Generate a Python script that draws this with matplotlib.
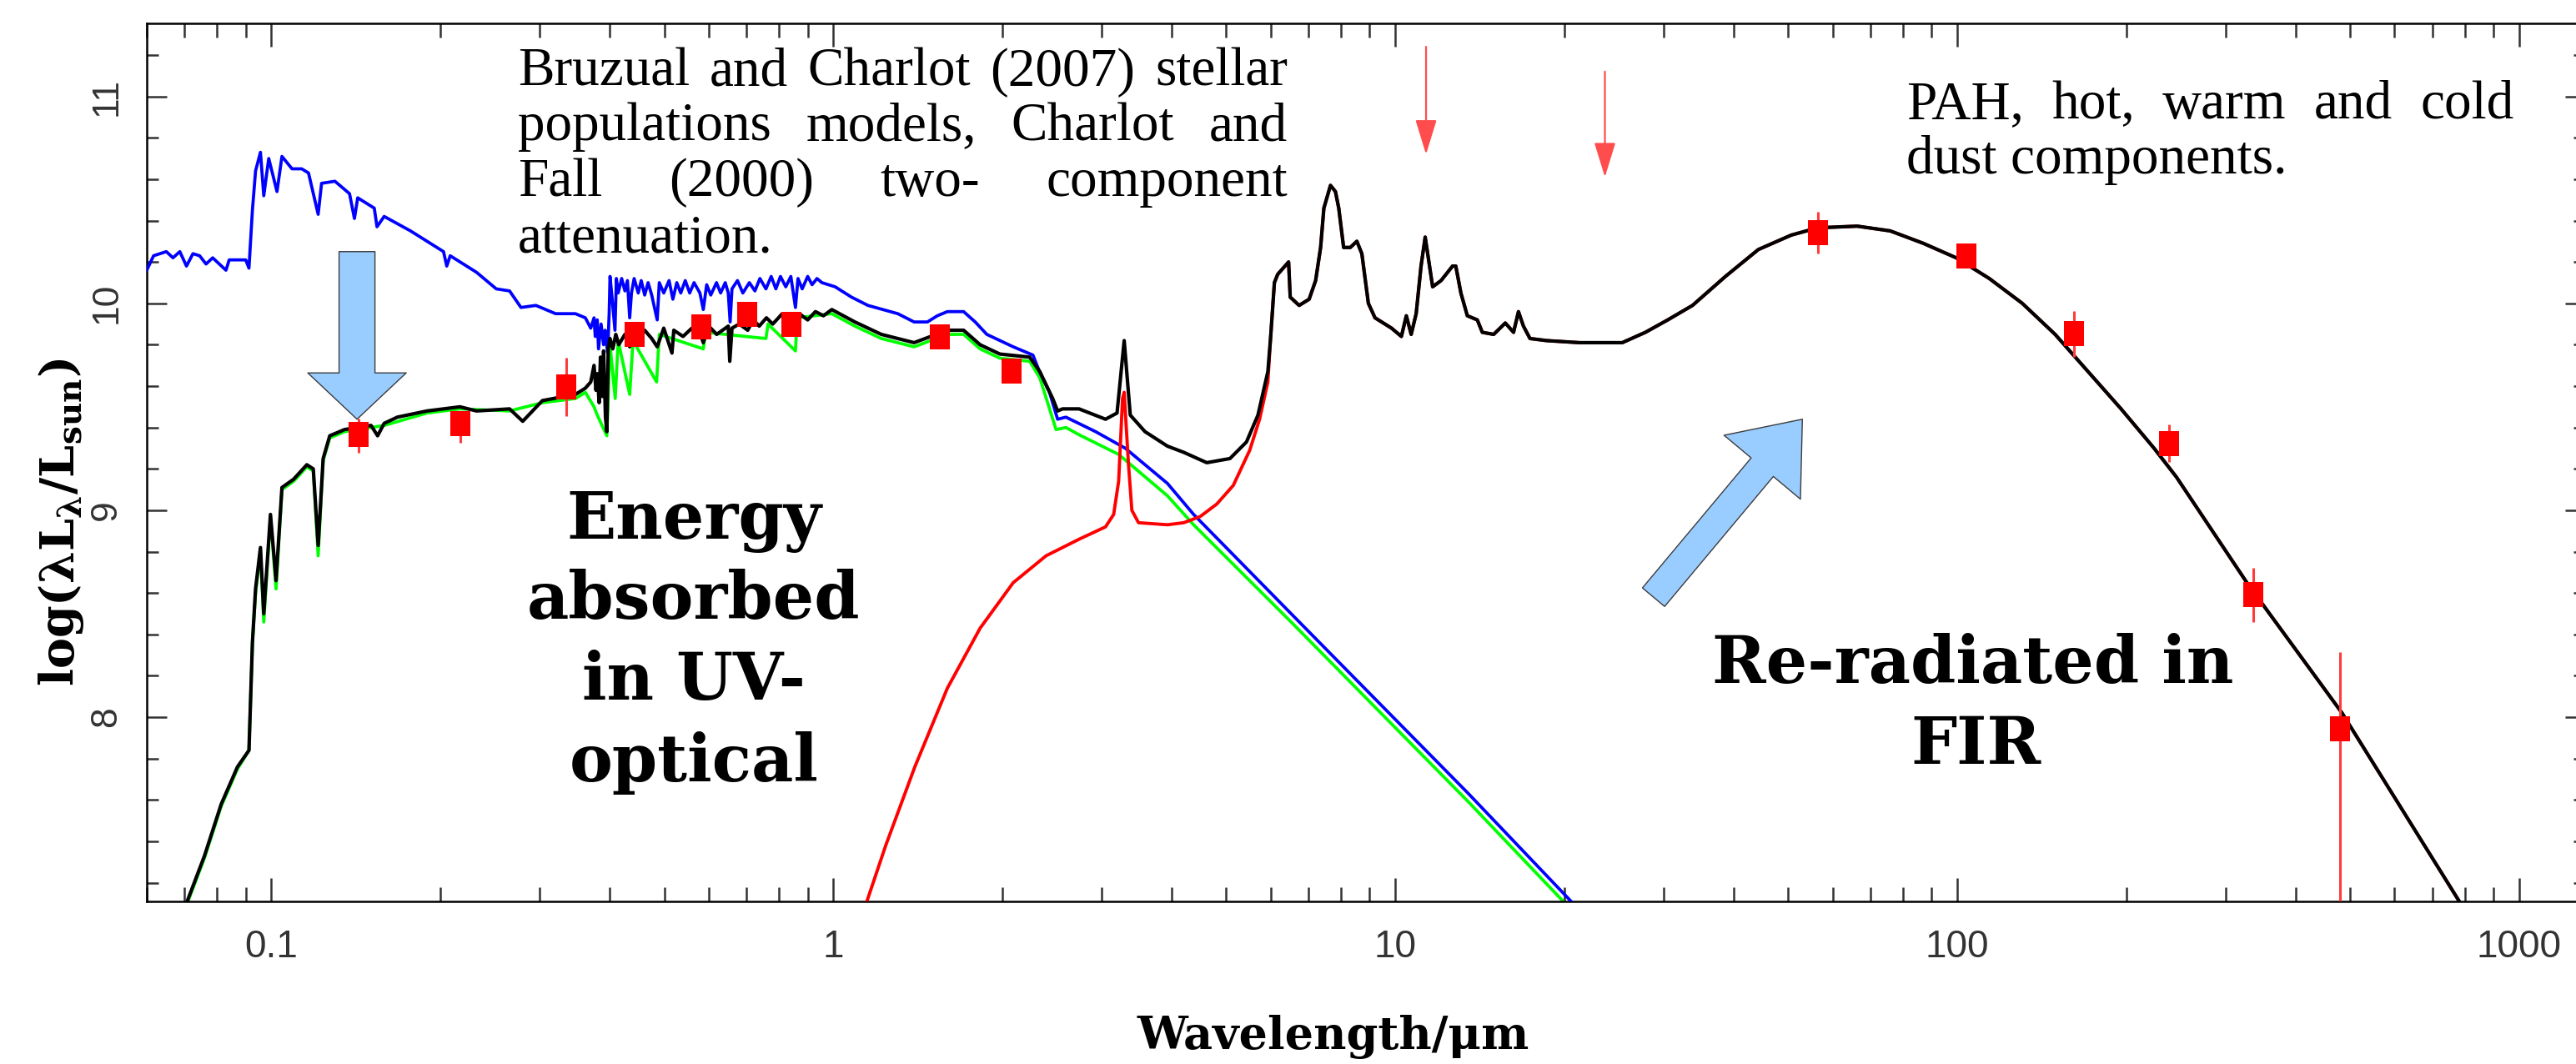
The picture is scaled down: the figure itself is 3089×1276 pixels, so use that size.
import numpy as np
import matplotlib
matplotlib.use('Agg')
import matplotlib.pyplot as plt
from matplotlib import ticker
from matplotlib.patches import FancyArrowPatch

W, H = 3089, 1276

# unattenuated stellar emission (blue): (wavelength um, log L)
blue = [(0.0600, 10.16), (0.0617, 10.23), (0.0650, 10.25), (0.0668, 10.22), (0.0687, 10.25),
        (0.0706, 10.18), (0.0725, 10.24), (0.0745, 10.23), (0.0765, 10.19), (0.0786, 10.22),
        (0.0830, 10.16), (0.0841, 10.21), (0.0900, 10.21), (0.0912, 10.17), (0.0925, 10.45),
        (0.0937, 10.64), (0.0956, 10.73), (0.0969, 10.52), (0.0989, 10.70), (0.1023, 10.54),
        (0.1044, 10.71), (0.1088, 10.65), (0.1132, 10.65), (0.1164, 10.63), (0.1211, 10.43),
        (0.1228, 10.58), (0.1297, 10.59), (0.1377, 10.53), (0.1405, 10.41), (0.1424, 10.51),
        (0.1524, 10.46), (0.1541, 10.37), (0.1587, 10.42), (0.1768, 10.35), (0.1892, 10.30),
        (0.2024, 10.25), (0.2051, 10.18), (0.2080, 10.23), (0.2317, 10.15), (0.2512, 10.07),
        (0.2653, 10.06), (0.2780, 9.98), (0.2955, 9.99), (0.3204, 9.95), (0.3475, 9.95),
        (0.3619, 9.93), (0.3700, 9.88), (0.3750, 9.93), (0.3769, 9.84), (0.3800, 9.92),
        (0.3820, 9.78), (0.3860, 9.90), (0.3900, 9.80), (0.3924, 9.87), (0.3965, 9.76),
        (0.3990, 9.95), (0.4004, 10.13), (0.4040, 10.02), (0.4086, 9.87), (0.4110, 10.12),
        (0.4140, 10.05), (0.4200, 10.12), (0.4256, 10.06), (0.4300, 10.11), (0.4340, 9.93),
        (0.4372, 10.05), (0.4420, 10.12), (0.4495, 10.05), (0.4550, 10.11), (0.4615, 10.04),
        (0.4680, 10.10), (0.4750, 10.04), (0.4858, 9.92), (0.4900, 10.10), (0.4990, 10.05),
        (0.5100, 10.11), (0.5180, 10.02), (0.5264, 10.10), (0.5350, 10.05), (0.5450, 10.11),
        (0.5550, 10.05), (0.5650, 10.10), (0.5787, 10.05), (0.5868, 9.97), (0.5950, 10.09),
        (0.6050, 10.04), (0.6194, 10.10), (0.6300, 10.05), (0.6420, 10.10), (0.6500, 10.05),
        (0.6550, 9.91), (0.6600, 10.07), (0.6750, 10.11), (0.6900, 10.05), (0.7087, 10.10),
        (0.7250, 10.06), (0.7400, 10.12), (0.7585, 10.07), (0.7750, 10.13), (0.7900, 10.07),
        (0.8050, 10.13), (0.8227, 10.08), (0.8400, 10.13), (0.8560, 9.98), (0.8650, 10.12),
        (0.8800, 10.07), (0.9000, 10.13), (0.9163, 10.09), (0.9350, 10.12), (0.9539, 10.10),
        (1.007, 10.08), (1.077, 10.03), (1.152, 9.99), (1.302, 9.95), (1.392, 9.91),
        (1.470, 9.91), (1.531, 9.94), (1.595, 9.96), (1.705, 9.96), (1.788, 9.91),
        (1.875, 9.85), (2.089, 9.79), (2.265, 9.75), (2.327, 9.67), (2.424, 9.57),
        (2.506, 9.44), (2.593, 9.45), (2.928, 9.38), (3.306, 9.30), (3.930, 9.13),
        (4.375, 8.98), (6.580, 8.49), (13.50, 7.63), (20.55, 7.11), (25.0, 6.87)]

# attenuated stellar emission (green)
green = [(0.0690, 7.03), (0.0708, 7.10), (0.0760, 7.32), (0.0814, 7.57), (0.0870, 7.75),
         (0.0912, 7.84), (0.0925, 8.36), (0.0937, 8.60), (0.0956, 8.80), (0.0969, 8.46),
         (0.0996, 8.97), (0.1019, 8.62), (0.1044, 9.10), (0.1095, 9.14), (0.1156, 9.21),
         (0.1187, 9.19), (0.1211, 8.78), (0.1236, 9.24), (0.1270, 9.35), (0.1349, 9.38),
         (0.1504, 9.40), (0.1587, 9.41), (0.1892, 9.47), (0.2165, 9.49), (0.2653, 9.48),
         (0.3035, 9.52), (0.3475, 9.54), (0.3619, 9.57), (0.3750, 9.50), (0.3800, 9.46),
         (0.3952, 9.36), (0.4004, 9.80), (0.4090, 9.54), (0.4140, 9.82), (0.4340, 9.56),
         (0.4400, 9.82), (0.4846, 9.62), (0.4900, 9.85), (0.5868, 9.78), (0.5920, 9.86),
         (0.7585, 9.83), (0.7650, 9.90), (0.8560, 9.77), (0.8620, 9.93), (0.9935, 9.95),
         (1.092, 9.89), (1.217, 9.83), (1.392, 9.79), (1.595, 9.85), (1.705, 9.85),
         (1.824, 9.78), (1.978, 9.735), (2.235, 9.72), (2.330, 9.64), (2.490, 9.39),
         (2.593, 9.40), (2.736, 9.365), (3.218, 9.27), (3.930, 9.07), (4.375, 8.93),
         (6.580, 8.45), (13.50, 7.59), (20.55, 7.07), (25.0, 6.83)]

# total model (black)
black = [(0.0690, 7.04), (0.0708, 7.11), (0.0760, 7.33), (0.0814, 7.58), (0.0870, 7.76),
         (0.0912, 7.84), (0.0925, 8.36), (0.0937, 8.62), (0.0956, 8.82), (0.0969, 8.50),
         (0.0996, 8.98), (0.1019, 8.66), (0.1044, 9.11), (0.1095, 9.15), (0.1156, 9.22),
         (0.1187, 9.20), (0.1211, 8.83), (0.1236, 9.25), (0.1270, 9.36), (0.1349, 9.39),
         (0.1504, 9.41), (0.1545, 9.36), (0.1587, 9.42), (0.1675, 9.45), (0.1892, 9.48),
         (0.2165, 9.50), (0.2317, 9.48), (0.2653, 9.49), (0.2800, 9.43), (0.3035, 9.53),
         (0.3475, 9.56), (0.3619, 9.59), (0.3700, 9.62), (0.3750, 9.70), (0.3780, 9.58),
         (0.3800, 9.66), (0.3830, 9.52), (0.3850, 9.74), (0.3880, 9.55), (0.3900, 9.77),
         (0.3930, 9.45), (0.3952, 9.38), (0.3975, 9.78), (0.4004, 9.83), (0.4050, 9.78),
         (0.4100, 9.85), (0.4150, 9.80), (0.4256, 9.85), (0.4340, 9.79), (0.4400, 9.86),
         (0.4500, 9.82), (0.4615, 9.87), (0.4750, 9.83), (0.4858, 9.79), (0.4990, 9.88),
         (0.5161, 9.76), (0.5200, 9.87), (0.5400, 9.84), (0.5600, 9.88), (0.5800, 9.85),
         (0.5868, 9.81), (0.6000, 9.89), (0.6200, 9.85), (0.6500, 9.89), (0.6540, 9.72),
         (0.6600, 9.88), (0.6800, 9.90), (0.7040, 9.87), (0.7200, 9.92), (0.7380, 9.89),
         (0.7600, 9.93), (0.7800, 9.90), (0.8110, 9.95), (0.8350, 9.91), (0.8560, 9.88),
         (0.8700, 9.95), (0.9000, 9.92), (0.9290, 9.96), (0.9600, 9.94), (0.9935, 9.97),
         (1.092, 9.91), (1.217, 9.85), (1.392, 9.81), (1.595, 9.87), (1.705, 9.87),
         (1.824, 9.80), (1.978, 9.755), (2.235, 9.74), (2.330, 9.67), (2.456, 9.54),
         (2.506, 9.48), (2.558, 9.49), (2.736, 9.49), (3.050, 9.44), (3.197, 9.47),
         (3.292, 9.82), (3.375, 9.46), (3.585, 9.38), (3.930, 9.31), (4.202, 9.28),
         (4.618, 9.23), (5.078, 9.25), (5.433, 9.33), (5.695, 9.46), (5.931, 9.67),
         (6.000, 9.84), (6.092, 10.10), (6.174, 10.14), (6.457, 10.20), (6.500, 10.03),
         (6.742, 9.99), (7.024, 10.02), (7.213, 10.11), (7.362, 10.27), (7.461, 10.46),
         (7.666, 10.57), (7.823, 10.54), (7.930, 10.46), (8.090, 10.27), (8.314, 10.27),
         (8.540, 10.30), (8.717, 10.24), (8.953, 10.00), (9.200, 9.93), (9.845, 9.88),
         (10.25, 9.84), (10.46, 9.94), (10.67, 9.85), (10.89, 9.95), (11.11, 10.18),
         (11.30, 10.32), (11.49, 10.19), (11.65, 10.08), (12.06, 10.11), (12.64, 10.18),
         (12.81, 10.18), (13.08, 10.05), (13.43, 9.94), (13.99, 9.92), (14.28, 9.86),
         (14.96, 9.85), (15.69, 9.905), (16.23, 9.86), (16.56, 9.96), (16.90, 9.89),
         (17.36, 9.83), (18.58, 9.82), (21.26, 9.81), (25.34, 9.81), (27.86, 9.86),
         (30.53, 9.92), (33.79, 9.99), (38.67, 10.13), (44.25, 10.26), (50.67, 10.33),
         (56.45, 10.365), (66.36, 10.373), (75.98, 10.35), (86.99, 10.29), (99.54, 10.22),
         (114.0, 10.12), (130.5, 10.00), (149.3, 9.85), (170.9, 9.67), (195.6, 9.49),
         (223.9, 9.30), (245.5, 9.16), (327.6, 8.65), (483.8, 8.02), (782.1, 7.11),
         (850.0, 6.91)]

# dust emission (red) below 6 um; above that it follows the total
red_low = [(1.120, 7.02), (1.147, 7.11), (1.239, 7.38), (1.396, 7.76), (1.595, 8.14),
           (1.824, 8.43), (2.089, 8.65), (2.390, 8.78), (2.736, 8.86), (3.050, 8.92),
           (3.153, 8.98), (3.218, 9.14), (3.270, 9.54), (3.292, 9.57), (3.351, 9.22),
           (3.397, 9.00), (3.491, 8.94), (3.930, 8.93), (4.202, 8.94), (4.496, 8.97),
           (4.810, 9.03), (5.147, 9.12), (5.506, 9.29), (5.733, 9.44), (5.931, 9.62)]

# observed photometry
obs_wl = [0.1429, 0.2172, 0.3342, 0.4426, 0.582, 0.7036, 0.8433, 1.547, 2.075,
          56.5, 103.8, 161.2, 237.8, 336.4, 479.8]
obs_lum = [9.368, 9.417, 9.597, 9.852, 9.888, 9.947, 9.900, 9.838, 9.672,
           10.342, 10.229, 9.853, 9.323, 8.591, 7.944]
err_lo = [0.09, 0.09, 0.14, 0.04, 0.04, 0.04, 0.04, 0.04, 0.04,
          0.10, 0.04, 0.11, 0.09, 0.13, 2.0]
err_hi = [0.075, 0.04, 0.14, 0.04, 0.04, 0.04, 0.04, 0.04, 0.04,
          0.10, 0.04, 0.11, 0.09, 0.13, 0.37]

# red arrows (wavelength, start, tip)
arrow_wl = [11.34, 23.6]
arrow_top = [11.24, 11.12]
arrow_tip = [10.72, 10.61]

blue_wl, blue_lum = zip(*blue)
green_wl, green_lum = zip(*green)
black_wl, black_lum = zip(*black)
red = red_low + [p for p in black if p[0] > 5.95]
red_wl, red_lum = zip(*red)

plt.rcParams['font.family'] = ['Liberation Sans', 'DejaVu Sans']
plt.rcParams['mathtext.fontset'] = 'dejavuserif'


def fx(px):
    return px / W


def fy(py):
    return 1 - py / H


fig = plt.figure(figsize=(W / 100, H / 100), dpi=100)
ax = fig.add_axes([fx(176), fy(1081), (3100 - 176) / W, (1081 - 28) / H])
ax.set_xscale('log')
ax.set_xlim(0.06, 1310)
ax.set_ylim(7.11, 11.353)

ax.plot(green_wl, green_lum, color='#00ff00', lw=2.7, zorder=2)
ax.plot(blue_wl, blue_lum, color='#0000ff', lw=2.7, zorder=3)
ax.plot(red_wl, red_lum, color='#ff0000', lw=2.8, zorder=4)
ax.plot(black_wl, black_lum, color='black', lw=3.0, zorder=5)

ax.errorbar(obs_wl, obs_lum, yerr=[err_lo, err_hi], fmt='none',
            ecolor='#ff3c3c', elinewidth=2.2, zorder=6)
box = [(-0.4, -0.5), (0.4, -0.5), (0.4, 0.5), (-0.4, 0.5), (-0.4, -0.5)]
ax.plot(obs_wl, obs_lum, ls='none', marker=box, ms=21.5, mew=0, color='#ff0000', zorder=7)

for wl, top, tip in zip(arrow_wl, arrow_top, arrow_tip):
    ax.annotate('', xy=(wl, tip), xytext=(wl, top),
                arrowprops=dict(arrowstyle='-|>,head_length=26,head_width=8',
                                color='#ff4d4d', lw=1.6, shrinkA=0, shrinkB=0,
                                mutation_scale=1))

# big light-blue arrows
ax.add_patch(FancyArrowPatch((0.142, 10.25), (0.142, 9.44),
                             arrowstyle='simple,head_length=40,head_width=85,tail_width=31',
                             mutation_scale=1, shrinkA=0, shrinkB=0,
                             fc='#99ccff', ec='#3c3c3c', lw=1.0, zorder=8))
ax.add_patch(FancyArrowPatch((28.8, 8.58), (53.0, 9.44),
                             arrowstyle='simple,head_length=54,head_width=86,tail_width=25',
                             mutation_scale=1, shrinkA=0, shrinkB=0,
                             fc='#99ccff', ec='#3c3c3c', lw=1.0, zorder=8))

ax.xaxis.set_major_locator(ticker.LogLocator(base=10, numticks=20))
ax.xaxis.set_minor_locator(ticker.LogLocator(base=10, subs=np.arange(2, 10), numticks=50))
ax.xaxis.set_major_formatter(ticker.FuncFormatter(lambda v, p: f'{v:g}'))
ax.xaxis.set_minor_formatter(ticker.NullFormatter())
ax.yaxis.set_major_locator(ticker.MultipleLocator(1))
ax.yaxis.set_minor_locator(ticker.MultipleLocator(0.2))
ax.yaxis.set_major_formatter(ticker.FormatStrFormatter('%d'))

ax.tick_params(which='both', direction='in', top=True, right=True,
               colors='#333333', width=1.8)
ax.tick_params(axis='x', which='major', length=20, pad=24, labelsize=33)
ax.tick_params(axis='x', which='minor', length=12)
ax.tick_params(axis='y', which='major', length=17, pad=20, labelsize=32, labelrotation=90)
ax.tick_params(axis='y', which='minor', length=10)
plt.setp(ax.get_yticklabels(), va='center')
for s in ax.spines.values():
    s.set_linewidth(1.8)

fig.text(fx(74), fy(626), r'$\mathbf{log(\lambda L_{\lambda}/L_{sun})}$',
         rotation=90, ha='center', va='center', fontsize=40)
fig.text(fx(1599), fy(1258), 'Wavelength/μm', family='DejaVu Serif', weight='bold',
         fontsize=39, ha='center', va='baseline')

renderer = fig.canvas.get_renderer()


def justify(lines, left, right, baselines, **kw):
    # justified paragraph, last line left aligned
    for i, (line, base) in enumerate(zip(lines, baselines)):
        if i == len(lines) - 1:
            fig.text(fx(left), fy(base), line, ha='left', va='baseline', **kw)
            continue
        words = line.split()
        items = [fig.text(0, fy(base), w, ha='left', va='baseline', **kw) for w in words]
        widths = [t.get_window_extent(renderer).width for t in items]
        gap = (right - left - sum(widths)) / (len(words) - 1)
        x = left
        for t, w in zip(items, widths):
            t.set_x(fx(x))
            x += w + gap


body = dict(family='Liberation Serif', fontsize=47)
justify(['Bruzual and Charlot (2007) stellar', 'populations models, Charlot and',
         'Fall (2000) two- component', 'attenuation.'],
        621, 1544, [102.6, 168.4, 235.4, 302.3], **body)
justify(['PAH, hot, warm and cold', 'dust components.'],
        2286, 3014.5, [141.6, 207.8], **body)

big = dict(family='DejaVu Serif', weight='bold', fontsize=56, ha='center', va='baseline')
for line, base in zip(['Energy', 'absorbed', 'in UV-', 'optical'], [646, 742, 839, 937]):
    fig.text(fx(832), fy(base), line, **big)
for line, cx, base in zip(['Re-radiated in', 'FIR'], [2365.5, 2369], [818.5, 915.7]):
    fig.text(fx(cx), fy(base), line, **big)

fig.savefig('out.png', dpi=100)
